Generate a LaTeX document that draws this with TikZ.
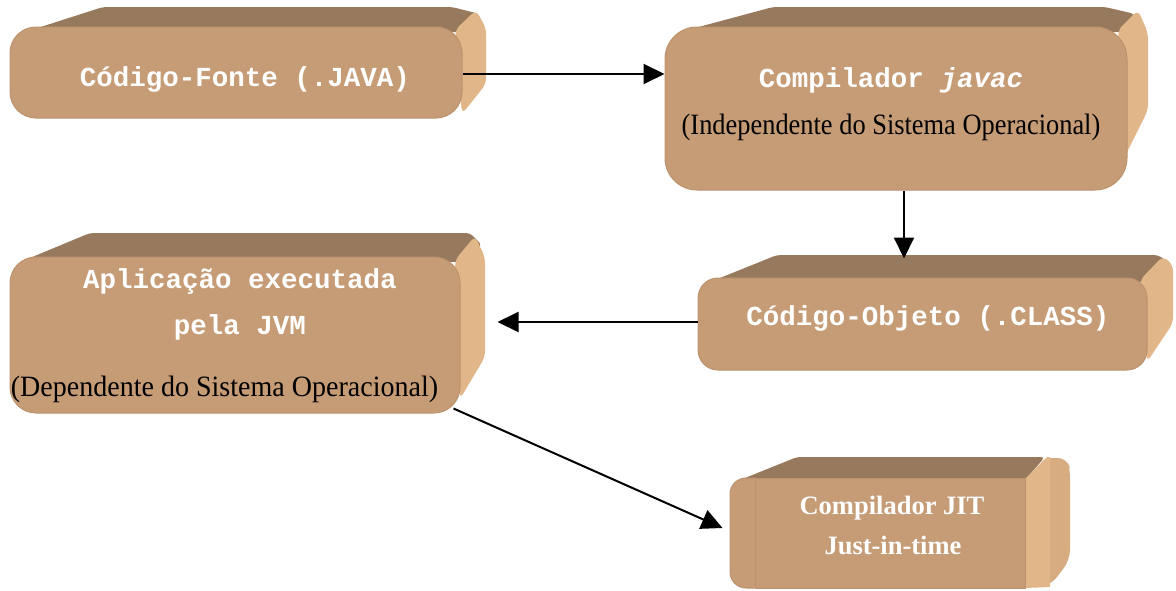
\documentclass[tikz,border=0pt]{standalone}
\usepackage{fontspec}
\usepackage{graphicx}
\setmainfont{Liberation Serif}
\setmonofont{Liberation Mono}
\usetikzlibrary{arrows.meta,calc}
\definecolor{facefront}{RGB}{197,156,118}
\definecolor{facetop}{RGB}{151,122,93}
\definecolor{faceside}{RGB}{225,182,137}
\definecolor{facesidedark}{RGB}{214,172,128}
\definecolor{faceedge}{RGB}{188,147,110}
\begin{document}
\begin{tikzpicture}[x=1pt,y=-1pt,
  topface/.style={fill=facetop, rounded corners=4pt},
  sideface/.style={fill=faceside, rounded corners=6pt},
  frontface/.style={fill=facefront, draw=faceedge, line width=1pt, inner sep=0pt},
  monolabel/.style={text=white, inner sep=0pt, font=\ttfamily\bfseries\fontsize{27.5}{30}\selectfont},
  seriflabel/.style={text=black, inner sep=0pt, font=\fontsize{29.5}{32}\selectfont},
  boldlabel/.style={text=white, inner sep=0pt, font=\bfseries\fontsize{26.5}{30}\selectfont},
  flow/.style={line width=2pt, -{Triangle[length=21pt,width=20pt]}}]
\useasboundingbox (0,0) rectangle (1176,590);

% --- source code block
\fill[topface] (25,32) -- (103,7) -- (452,7) -- (480,14) -- (460,32) -- cycle;
\fill[sideface] (455,30) -- (476,10) -- (486,28) -- (486,84) -- (462,114) -- cycle;
\node[frontface, rounded corners=26pt, minimum width=452pt, minimum height=91pt] (src) at (236,72.5) {};
\node[monolabel] (srcT) at (245,79) {Código-Fonte (.JAVA)};

% --- javac block
\fill[topface] (680,32) -- (773,7) -- (1105,7) -- (1135,14) -- (1125,32) -- cycle;
\fill[sideface] (1118,30) -- (1138,10) -- (1148,33) -- (1148,110) -- (1123,160) -- cycle;
\node[frontface, rounded corners=32pt, minimum width=462pt, minimum height=163pt] (javac) at (896,108.5) {};
\node[monolabel] (javacT) at (891,80) {Compilador \textit{javac}};
\node[seriflabel] (javacS) at (891,127) {\scalebox{0.895}[1]{(Independente do Sistema Operacional)}};

% --- JVM block
\fill[topface] (25,260) -- (90,233) -- (470,233) -- (482,245) -- (460,262) -- cycle;
\fill[sideface] (455,260) -- (475,236) -- (485,257) -- (485,357) -- (460,399) -- cycle;
\node[frontface, rounded corners=26pt, minimum width=450pt, minimum height=156pt] (jvm) at (235,335) {};
\node[monolabel] (jvmT1) at (240,282) {Aplicação executada};
\node[monolabel] (jvmT2) at (240,327) {pela JVM};
\node[seriflabel] (jvmS) at (224.5,389) {\scalebox{0.95}[1]{(Dependente do Sistema Operacional)}};

% --- bytecode block
\fill[topface] (710,282) -- (777,255) -- (1158,255) -- (1168,262) -- (1147,282) -- cycle;
\fill[sideface] (1140,280) -- (1163,256) -- (1173,265) -- (1173,323) -- (1147,362) -- cycle;
\node[frontface, rounded corners=20pt, minimum width=449pt, minimum height=92pt] (cls) at (922.5,324) {};
\node[monolabel] (clsT) at (928,318) {Código-Objeto (.CLASS)};

% --- JIT block
\fill[topface] (740,480) -- (797,457) -- (1045,457) -- (1025,480) -- cycle;
\fill[facesidedark, rounded corners=10pt] (1040,458) -- (1068,458) -- (1070,470) -- (1070,560) -- (1050,586) -- (1040,586) -- cycle;
\fill[faceside] (1025,479) -- (1047,457) -- (1050,457) -- (1050,587) -- (1025,588) -- cycle;
\node[frontface, rounded corners=16pt, minimum width=40pt, minimum height=110pt] (jitL) at (750,533) {};
\node[frontface, minimum width=270pt, minimum height=110pt] (jit) at (890,533) {};
\node[boldlabel] (jitT1) at (892,508) {Compilador JIT};
\node[boldlabel] (jitT2) at (893,545) {Just-in-time};

% --- connectors
\coordinate (clsTop) at ($(javac.south)+(8,68)$);
\coordinate (jvmIn) at ($(jvm.east)+(37,-13)$);
\draw[flow] (src.east |- 0,74) -- (javac.west |- 0,74);
\draw[flow] ($(javac.south)+(8,0)$) -- (clsTop);
\draw[flow] (cls.west |- 0,322) -- (jvmIn);
\draw[flow] ($(jvm.south east)+(-7,-5)$) -- ($(jitL.west)+(-7,-5)$);
\end{tikzpicture}
\end{document}
